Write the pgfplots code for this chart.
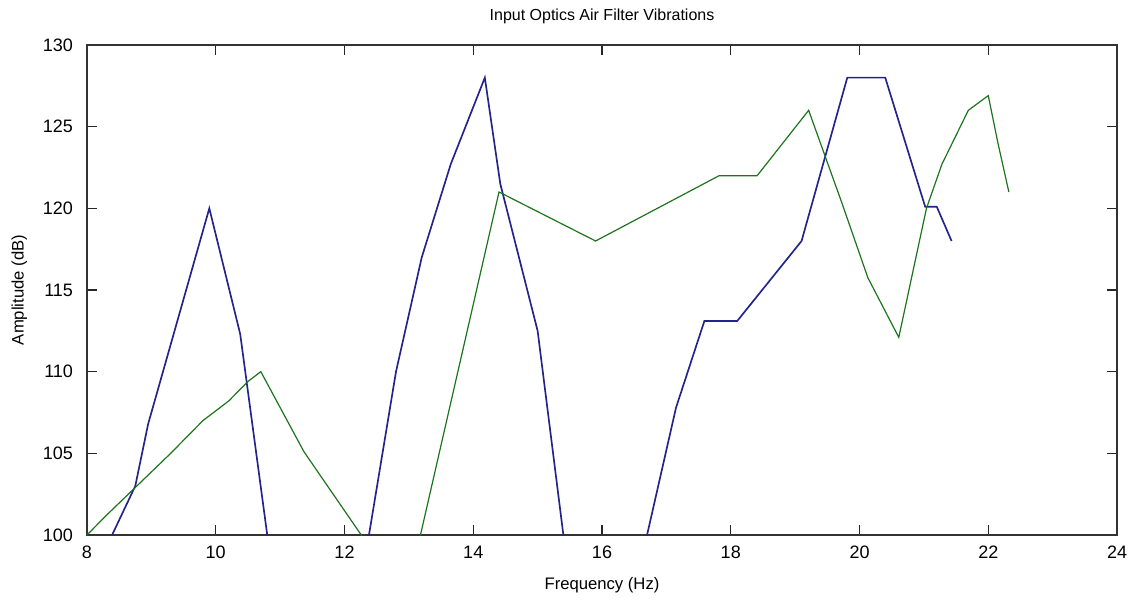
\documentclass[border=0pt]{standalone}
\usepackage{fontspec}
\setmainfont{Liberation Sans}
\usepackage{pgfplots}
\pgfplotsset{compat=1.18}
\definecolor{mblue}{RGB}{35,35,140}
\definecolor{mgreen}{RGB}{30,115,30}
\begin{document}
\begin{tikzpicture}
\path[use as bounding box] (-65.25pt,-54pt) rectangle (782.25pt,401.25pt);
\begin{axis}[
  at={(0,0)}, anchor=south west,
  scale only axis, width=772.5pt, height=367.5pt,
  xmin=8, xmax=24, ymin=100, ymax=130,
  xtick={8,10,...,24}, ytick={100,105,...,130},
  tick align=inside, major tick length=7.5pt,
  xtick pos=both, ytick pos=both,
  axis line style={line width=1.1pt, black!80},
  tick style={line width=1pt, black!85},
  /pgf/number format/assume math mode=true,
  ticklabel style={font=\fontsize{13.5}{15}\selectfont},
  xticklabel style={yshift=-5pt},
  yticklabel style={xshift=-7pt},
  title={Input Optics Air Filter Vibrations},
  title style={font=\fontsize{12}{14}\selectfont, yshift=6pt},
  xlabel={Frequency (Hz)},
  ylabel={Amplitude (dB)},
  label style={font=\fontsize{12.5}{14}\selectfont},
  xlabel style={yshift=-7pt},
  ylabel style={yshift=5pt},
  clip=true,
]
\addplot[mblue, line width=1.25pt] coordinates {
(8.39,100) (8.75,103) (8.95,106.8) (9.9,120) (10.38,112.3) (10.8,100)
(11.53,78.8) (12.38,100) (12.8,110) (13.2,117) (13.65,122.7) (14.18,128)
(14.42,121.5) (15.0,112.5) (15.4,100) (15.87,85.4) (16.7,100) (17.15,107.8)
(17.59,113.1) (18.10,113.1) (19.10,118) (19.81,128) (20.40,128) (21.02,120.1)
(21.20,120.1) (21.43,118)
};
\addplot[mgreen, line width=0.9pt] coordinates {
(8,100) (8.3,101.2) (9.3,105) (9.8,107) (10.2,108.2) (10.5,109.4) (10.7,110)
(11.37,105.1) (12.26,100) (12.95,96.1) (13.18,100) (14.40,121) (15.90,118)
(17.82,122) (18.41,122) (19.21,126) (19.72,120.4) (20.13,115.75) (20.61,112.1)
(21.04,120) (21.28,122.7) (21.69,126) (22.0,126.9) (22.15,124) (22.32,121)
};
\end{axis}
\end{tikzpicture}
\end{document}
